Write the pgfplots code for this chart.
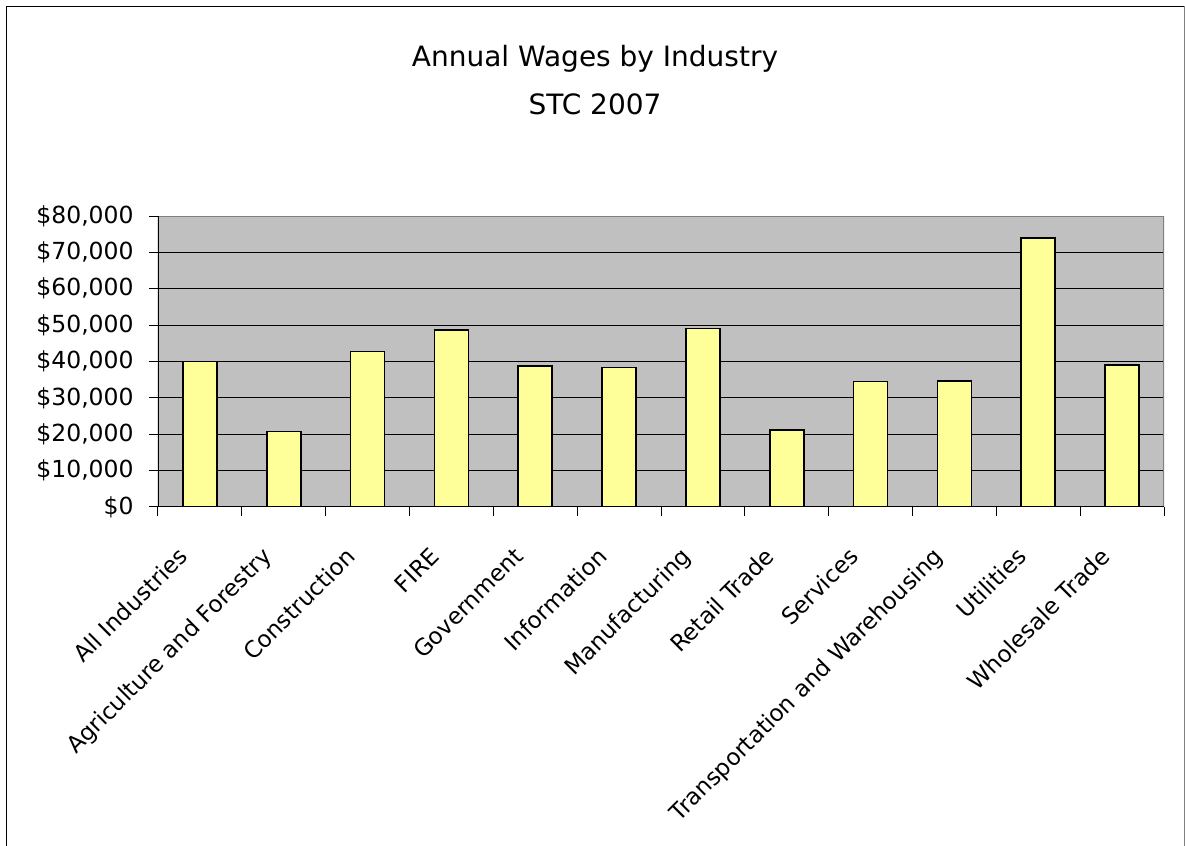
\documentclass[border=0pt]{standalone}
\usepackage{pgfplots}
\pgfplotsset{compat=1.18}
\usepackage{fontspec}
\setmainfont{DejaVu Sans}

\definecolor{plotbg}{HTML}{C0C0C0}
\definecolor{baryellow}{HTML}{FFFF99}
\definecolor{framegray}{HTML}{808080}

\begin{document}
\begin{tikzpicture}
% 1 px of the reference = 0.5pt
\path[use as bounding box] (0,0) rectangle (592.5pt,423pt);
\draw[black, line width=0.5pt] (3.25pt,-5pt) -- (3.25pt,419.75pt) -- (592.15pt,419.75pt);
\draw[framegray, line width=0.65pt] (592.15pt,419.75pt) -- (592.15pt,-5pt);

\node[anchor=base, font=\fontsize{14pt}{16pt}\selectfont] at (297.5pt,389.6pt) {Annual Wages by Industry};
\node[anchor=base, font=\fontsize{14pt}{16pt}\selectfont] at (297.5pt,365.5pt) {STC 2007};

\begin{axis}[
  at={(79pt,169.5pt)}, anchor=south west,
  scale only axis, width=503pt, height=145.5pt,
  xmin=-0.5, xmax=11.5, ymin=0, ymax=80000,
  axis background/.style={fill=plotbg},
  axis line style={draw=none},
  xtick={-0.5,0.5,...,11.5},
  x tick label as interval,
  xticklabels={All Industries, Agriculture and Forestry, Construction, FIRE, Government, Information, Manufacturing, Retail Trade, Services, Transportation and Warehousing, Utilities, Wholesale Trade},
  xticklabel style={font=\fontsize{11.5pt}{13pt}\selectfont, anchor=base east, inner sep=0pt, xshift=-5.25pt, yshift=-21pt, rotate=45},
  ytick={0,10000,...,80000},
  scaled y ticks=false,
  yticklabel={\$\pgfmathprintnumber[fixed, precision=0, 1000 sep={,}, assume math mode=true]{\tick}},
  yticklabel style={font=\fontsize{11.75pt}{13pt}\selectfont, anchor=east, inner sep=0pt, xshift=-7.5pt},
  xtick pos=bottom, ytick pos=left,
  tick align=outside, major tick length=4.5pt,
  tick style={black, line width=0.5pt},
  ymajorgrids, grid style={black, line width=0.5pt},
  ybar, bar width=17pt,
]
\addplot[fill=baryellow, draw=black, line width=0.8pt] coordinates {
  (0,40000) (1,20800) (2,42800) (3,48600) (4,38700) (5,38300)
  (6,49100) (7,21200) (8,34500) (9,34600) (10,73900) (11,39000)
};
\draw[framegray, line width=0.7pt] (rel axis cs:0,1) -- (rel axis cs:1,1) -- (rel axis cs:1,0);
\draw[black, line width=0.6pt] (rel axis cs:0,1) -- (rel axis cs:0,0) -- (rel axis cs:1,0);
\end{axis}
\end{tikzpicture}
\end{document}
